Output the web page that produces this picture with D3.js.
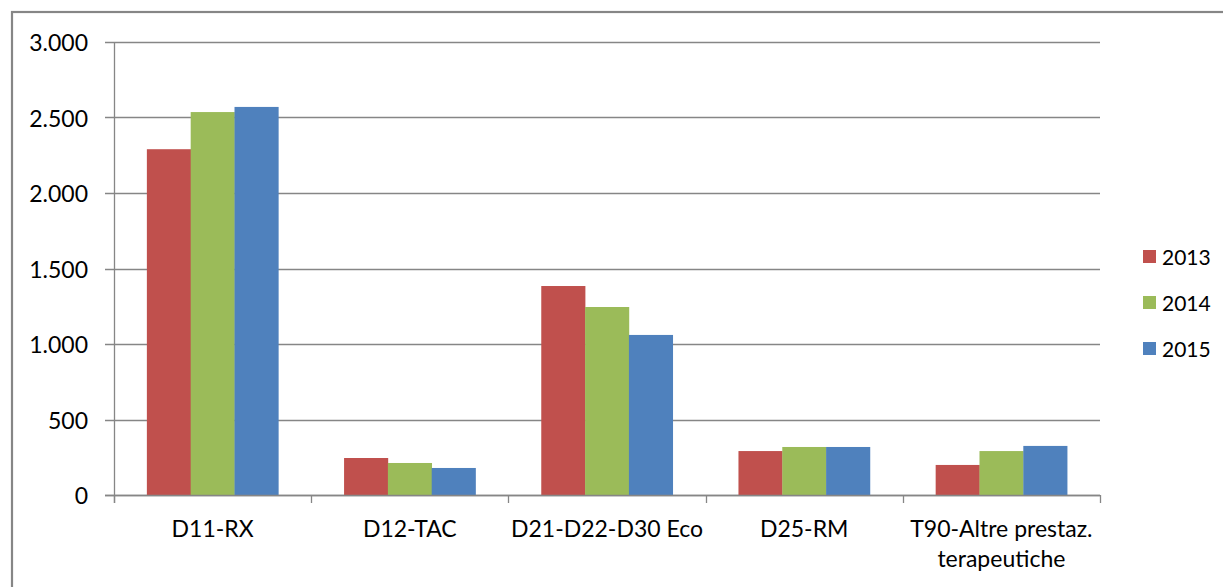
<!DOCTYPE html>
<html>
<head>
<meta charset="utf-8">
<script src="https://cdn.jsdelivr.net/npm/d3@7"></script>
<style>
  html, body { margin: 0; padding: 0; background: #ffffff; }
  svg { display: block; }
  text { font-family: Lato, "Open Sans", sans-serif; fill: #000; }
</style>
</head>
<body>
<script>
// ---- data ----
const categories = ["D11-RX", "D12-TAC", "D21-D22-D30 Eco", "D25-RM", "T90-Altre prestaz.\nterapeutiche"];
const years = ["2013", "2014", "2015"];
const values2013 = [2290, 245, 1384, 291, 199];
const values2014 = [2536, 212, 1245, 318, 291];
const values2015 = [2570, 179, 1060, 318, 325];
const yTicks = [0, 500, 1000, 1500, 2000, 2500, 3000];
const colors = ["#C0504D", "#9BBB59", "#4F81BD"];

const series = [values2013, values2014, values2015];
const table = categories.map((c, i) => ({ cat: c, vals: years.map((y, j) => ({ year: y, value: series[j][i] })) }));

const W = 1223, H = 587;
const plot = { left: 114, right: 1100, top: 42, bottom: 495 };

const svg = d3.select("body").append("svg").attr("width", W).attr("height", H);

// chart border
svg.append("rect").attr("x", 12).attr("y", 12).attr("width", 1400).attr("height", 800)
  .attr("fill", "none").attr("stroke", "#868686").attr("stroke-width", 2.2);

const x0 = d3.scaleBand().domain(categories).range([plot.left, plot.right]).paddingInner(0).paddingOuter(0);
const x1 = d3.scaleBand().domain(years).range([0, x0.bandwidth()]).paddingInner(0).paddingOuter(0.75);
const y = d3.scaleLinear().domain([0, 3000]).range([plot.bottom, plot.top]);

const loc = d3.formatLocale({ decimal: ",", thousands: ".", grouping: [3], currency: ["€", ""] });
const fmt = loc.format(",d");

// gridlines
svg.append("g").selectAll("line").data(yTicks).join("line")
  .attr("x1", plot.left - 9).attr("x2", plot.right)
  .attr("y1", d => Math.round(y(d)) + 0.5).attr("y2", d => Math.round(y(d)) + 0.5)
  .attr("stroke", "#868686").attr("stroke-width", 1.3);

// y axis line
svg.append("line").attr("x1", plot.left + 0.5).attr("x2", plot.left + 0.5)
  .attr("y1", plot.top).attr("y2", plot.bottom + 8)
  .attr("stroke", "#868686").attr("stroke-width", 1.3);

// y tick labels
svg.append("g").selectAll("text").data(yTicks).join("text")
  .attr("x", 88).attr("y", d => y(d))
  .attr("text-anchor", "end").attr("dominant-baseline", "central")
  .style("font-size", "23px")
  .text(d => fmt(d));

// bars
const groups = svg.append("g").selectAll("g").data(table).join("g")
  .attr("transform", d => `translate(${x0(d.cat)},0)`);
groups.selectAll("rect").data(d => d.vals).join("rect")
  .attr("x", d => x1(d.year))
  .attr("width", x1.bandwidth() + 0.3)
  .attr("y", d => y(d.value))
  .attr("height", d => y(0) - y(d.value))
  .attr("fill", (d, i) => colors[i]);

// x axis line (drawn over bar bottoms)
svg.append("line").attr("x1", plot.left - 9).attr("x2", plot.right)
  .attr("y1", plot.bottom + 0.5).attr("y2", plot.bottom + 0.5)
  .attr("stroke", "#868686").attr("stroke-width", 1.3);

// category boundary ticks
const bounds = categories.map(c => x0(c)).concat([plot.right]);
svg.append("g").selectAll("line").data(bounds).join("line")
  .attr("x1", d => Math.round(d) + 0.5).attr("x2", d => Math.round(d) + 0.5)
  .attr("y1", plot.bottom).attr("y2", plot.bottom + 8)
  .attr("stroke", "#868686").attr("stroke-width", 1.3);

// category labels
const catLabels = svg.append("g").selectAll("text").data(categories).join("text")
  .attr("x", d => x0(d) + x0.bandwidth() / 2)
  .attr("y", 537)
  .attr("text-anchor", "middle")
  .style("font-size", "23px");
catLabels.each(function(d) {
  const lines = d.split("\n");
  const t = d3.select(this);
  lines.forEach((l, i) => {
    t.append("tspan").attr("x", x0(d) + x0.bandwidth() / 2).attr("dy", i === 0 ? 0 : 29.5).text(l);
  });
});

// legend
const legend = svg.append("g").selectAll("g").data(years).join("g")
  .attr("transform", (d, i) => `translate(1143, ${250 + i * 46})`);
legend.append("rect").attr("width", 13).attr("height", 13).attr("fill", (d, i) => colors[i]);
legend.append("text").attr("x", 19).attr("y", 6.5).attr("dominant-baseline", "central")
  .style("font-size", "21px").text(d => d);
</script>
</body>
</html>
